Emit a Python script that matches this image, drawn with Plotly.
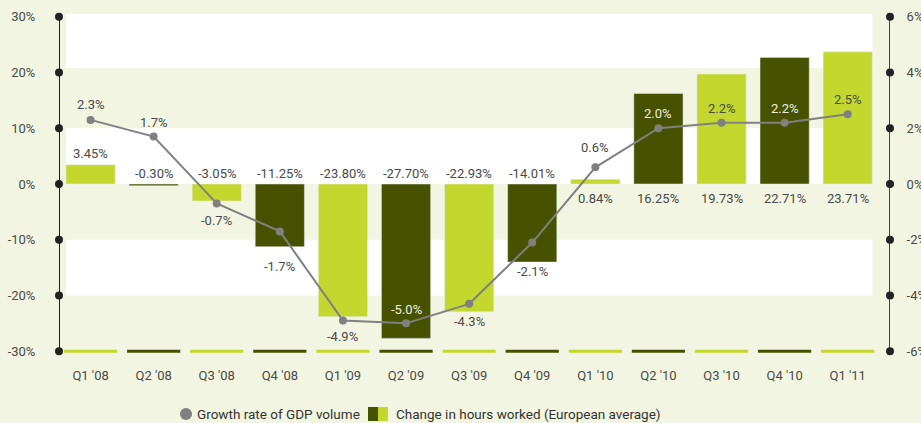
import plotly.graph_objects as go

# ---- data ----
quarters = ["Q1 '08", "Q2 '08", "Q3 '08", "Q4 '08", "Q1 '09", "Q2 '09", "Q3 '09",
            "Q4 '09", "Q1 '10", "Q2 '10", "Q3 '10", "Q4 '10", "Q1 '11"]
hours_change = [3.45, -0.30, -3.05, -11.25, -23.80, -27.70, -22.93, -14.01,
                0.84, 16.25, 19.73, 22.71, 23.71]
gdp_growth = [2.3, 1.7, -0.7, -1.7, -4.9, -5.0, -4.3, -2.1, 0.6, 2.0, 2.2, 2.2, 2.5]
left_ticks = [-30, -20, -10, 0, 10, 20, 30]
right_ticks = [-6, -4, -2, 0, 2, 4, 6]

# ---- style ----
LIGHT = "#C3D82F"
DARK = "#465200"
BG = "#F2F5E1"
TXT = "#4A4A4A"
GRAY = "#808080"
FONT = "Roboto"
bar_colors = [LIGHT if i % 2 == 0 else DARK for i in range(len(quarters))]
bar_label_mode = ["top"] + ["zero_above" if v < 0 else "zero_below" for v in hours_change[1:]]
gdp_label_shift = [15, 14, -17, -35, -16, 14, -18, -29, 20, 15, 14, 14, 15]
gdp_label_color = [TXT, TXT, TXT, TXT, TXT, "#EEEEE0", TXT, TXT, TXT, "#EEEEE0", TXT, "#EEEEE0", TXT]

W, H = 921, 423
ML, MR, MT, MB = 59, 31, 14, 69
PW, PH = W - ML - MR, H - MT - MB


def px_x(p):
    return (p - ML) / PW


def px_y(p):
    return (H - MB - p) / PH


x = list(range(len(quarters)))
XMIN, XMAX = -0.5, 12.67

fig = go.Figure()

# bars
fig.add_trace(go.Bar(x=x, y=hours_change, marker_color=bar_colors, width=0.78,
                     hoverinfo="skip", showlegend=False))

# base markers at -30%
fig.add_trace(go.Scatter(x=x, y=[left_ticks[0]] * len(x), mode="markers",
                         marker=dict(symbol="line-ew", size=38,
                                     line=dict(color=bar_colors, width=3)),
                         hoverinfo="skip", showlegend=False, cliponaxis=False))

# left axis line with dots
fig.add_trace(go.Scatter(x=[XMIN] * len(left_ticks), y=left_ticks, mode="lines+markers",
                         line=dict(color="#222222", width=2),
                         marker=dict(color="#222222", size=8),
                         hoverinfo="skip", showlegend=False, cliponaxis=False))

# GDP line on secondary axis
fig.add_trace(go.Scatter(x=x, y=gdp_growth, yaxis="y2", mode="lines+markers",
                         line=dict(color=GRAY, width=2),
                         marker=dict(color=GRAY, size=8),
                         hoverinfo="skip", showlegend=False, cliponaxis=False))

# right axis line with dots
fig.add_trace(go.Scatter(x=[XMAX] * len(right_ticks), y=right_ticks, yaxis="y2",
                         mode="lines+markers",
                         line=dict(color="#444444", width=2),
                         marker=dict(color="#222222", size=8),
                         hoverinfo="skip", showlegend=False, cliponaxis=False))

annotations = []
for i, v in enumerate(hours_change):
    mode = bar_label_mode[i]
    if mode == "top":
        y, shift = v, 11
    elif mode == "zero_above":
        y, shift = 0, 11
    else:
        y, shift = 0, -14
    annotations.append(dict(x=i, y=y, xref="x", yref="y", text=f"{v:.2f}%",
                            showarrow=False, yshift=shift,
                            font=dict(family=FONT, size=13, color=TXT)))
for i, v in enumerate(gdp_growth):
    annotations.append(dict(x=i, y=v, xref="x", yref="y2", text=f"{v:.1f}%",
                            showarrow=False, yshift=gdp_label_shift[i],
                            font=dict(family=FONT, size=13, color=gdp_label_color[i])))

# legend (custom)
annotations.append(dict(x=px_x(195), y=px_y(414), xref="paper", yref="paper",
                        text="Growth rate of GDP volume", showarrow=False,
                        xanchor="left", yanchor="middle",
                        font=dict(family=FONT, size=13.5, color="#333333")))
annotations.append(dict(x=px_x(394), y=px_y(414), xref="paper", yref="paper",
                        text="Change in hours worked (European average)", showarrow=False,
                        xanchor="left", yanchor="middle",
                        font=dict(family=FONT, size=13.5, color="#333333")))

shapes = []
# background bands
for y0, y1 in [(20.8, 30.5), (0, 10), (-20, -10)]:
    shapes.append(dict(type="rect", xref="x", yref="y", x0=-0.39, x1=12.39, y0=y0, y1=y1,
                       fillcolor="white", line_width=0, layer="below"))

# legend icons
shapes.append(dict(type="circle", xref="paper", yref="paper",
                   x0=px_x(180), x1=px_x(192), y0=px_y(420), y1=px_y(408),
                   fillcolor=GRAY, line_width=0))
shapes.append(dict(type="rect", xref="paper", yref="paper",
                   x0=px_x(368), x1=px_x(378), y0=px_y(421), y1=px_y(407),
                   fillcolor=DARK, line_width=0))
shapes.append(dict(type="rect", xref="paper", yref="paper",
                   x0=px_x(378), x1=px_x(388), y0=px_y(421), y1=px_y(407),
                   fillcolor=LIGHT, line_width=0))

fig.update_layout(
    width=W, height=H,
    margin=dict(l=ML, r=MR, t=MT, b=MB, autoexpand=False),
    paper_bgcolor=BG, plot_bgcolor=BG,
    barmode="overlay",
    font=dict(family=FONT, size=13, color=TXT),
    xaxis=dict(range=[XMIN, XMAX], tickvals=x, ticktext=quarters, showgrid=False,
               zeroline=False, showline=False, ticks="outside", ticklen=9,
               tickcolor="rgba(0,0,0,0)", tickfont=dict(size=13, color=TXT),
               automargin=False),
    yaxis=dict(range=[-30.5, 30.5], tickvals=left_ticks,
               ticktext=[f"{t}%" for t in left_ticks], showgrid=False, zeroline=False,
               showline=False, ticks="outside", ticklen=20, tickcolor="rgba(0,0,0,0)",
               tickfont=dict(size=13, color=TXT), automargin=False),
    yaxis2=dict(range=[-6.1, 6.1], overlaying="y", side="right", tickvals=right_ticks,
                ticktext=[f"{t}%" for t in right_ticks], showgrid=False, zeroline=False,
                showline=False, ticks="outside", ticklen=13, tickcolor="rgba(0,0,0,0)",
                tickfont=dict(size=13, color=TXT), automargin=False),
    annotations=annotations,
    shapes=shapes,
)

fig.write_html("out.html", config={"displayModeBar": False},
               post_script="document.body.style.margin='0';document.body.style.padding='0';"
                           "document.body.style.overflow='hidden';")
